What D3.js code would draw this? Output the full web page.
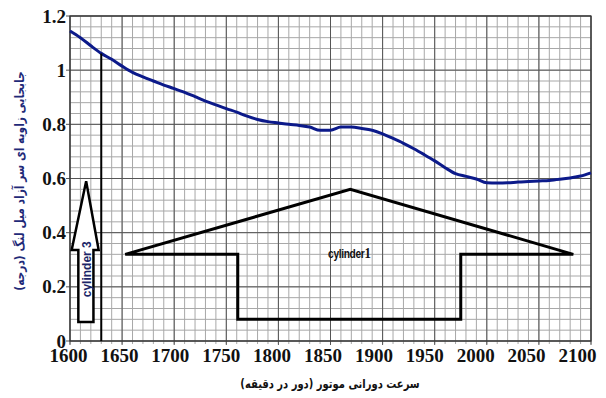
<!DOCTYPE html>
<html>
<head>
<meta charset="utf-8">
<script src="https://cdn.jsdelivr.net/npm/d3@7"></script>
<style>
  html, body { margin: 0; padding: 0; background: #fff; }
  svg { display: block; }
</style>
</head>
<body>
<svg id="chart" width="606" height="398"></svg>
<script>
// Engine speed (rpm) and free-end crankshaft angular displacement (degrees)
const rpm = [1600, 1610, 1620, 1630, 1640, 1650, 1660, 1670, 1680, 1690,
             1700, 1710, 1720, 1730, 1740, 1750, 1760, 1770, 1780, 1790,
             1800, 1810, 1820, 1830, 1840, 1850, 1860, 1870, 1880, 1890,
             1900, 1910, 1920, 1930, 1940, 1950, 1960, 1970, 1980, 1990,
             2000, 2010, 2020, 2030, 2040, 2050, 2060, 2070, 2080, 2090, 2100];
const displacement = [1.145, 1.12, 1.09, 1.062, 1.04, 1.015, 0.992, 0.975, 0.96, 0.945,
                      0.932, 0.918, 0.902, 0.886, 0.872, 0.858, 0.845, 0.83, 0.818, 0.81,
                      0.805, 0.80, 0.796, 0.79, 0.778, 0.778, 0.79, 0.79, 0.785, 0.778,
                      0.765, 0.748, 0.73, 0.71, 0.688, 0.665, 0.64, 0.618, 0.608, 0.598,
                      0.584, 0.583, 0.584, 0.587, 0.589, 0.591, 0.593, 0.597, 0.602, 0.609, 0.621];

const xTicks = [1600, 1650, 1700, 1750, 1800, 1850, 1900, 1950, 2000, 2050, 2100];
const yTicks = [0, 0.2, 0.4, 0.6, 0.8, 1, 1.2];

// Marker line at 1630 rpm
const markerRpm = 1630;
const markerTop = 1.062;

// Cylinder 1 speed band (flat arrow outline), as [rpm, value]
const cyl1Shape = [[1653, 0.32], [1869, 0.56], [2083, 0.32], [1975, 0.32],
                   [1975, 0.08], [1761, 0.08], [1761, 0.32]];
const cyl1Label = "cylinder";
const cyl1Num = "1";
const cyl1LabelPos = [1868, 0.32];

// Cylinder 3 upward arrow, as [rpm, value]
const cyl3Shape = [[1615.5, 0.59], [1627.5, 0.336], [1622.5, 0.336], [1622.5, 0.07],
                   [1608, 0.07], [1608, 0.336], [1601.6, 0.336]];
const cyl3Label = "cylinder 3";
const cyl3LabelPos = [1615.5, 0.265];

const xTitle = "سرعت دورانی موتور (دور در دقیقه)";
const yTitle = "جابجایی زاویه ای سر آزاد میل لنگ (درجه)";

const SERIF = "'Liberation Serif', 'Times New Roman', 'DejaVu Serif', serif";

const svg = d3.select("#chart");
const margin = { left: 70, right: 15, top: 16, bottom: 57 };
const W = 606, H = 398;

const x = d3.scaleLinear().domain([1600, 2100]).range([margin.left, W - margin.right]);
const y = d3.scaleLinear().domain([0, 1.2]).range([H - margin.bottom, margin.top]);
// The labels under the axis sit on a slightly tighter pitch than the grid
const xLabel = d3.scaleLinear().domain([1600, 2100]).range([68, 577]);

// Grid: minor every 10 rpm / 0.04, major every 50 rpm / 0.2
const grid = svg.append("g");
const minorX = d3.range(1600, 2100.1, 10);
const minorY = d3.range(0, 1.2001, 0.04);
grid.selectAll("line.mx").data(minorX).join("line")
  .attr("x1", d => x(d)).attr("x2", d => x(d))
  .attr("y1", y(0) + 3).attr("y2", y(1.2))
  .attr("stroke", "#a8a8a8").attr("stroke-width", 1);
grid.selectAll("line.my").data(minorY).join("line")
  .attr("y1", d => y(d)).attr("y2", d => y(d))
  .attr("x1", x(1600)).attr("x2", x(2100))
  .attr("stroke", "#a8a8a8").attr("stroke-width", 1);
grid.selectAll("line.Mx").data(xTicks).join("line")
  .attr("x1", d => x(d)).attr("x2", d => x(d))
  .attr("y1", y(0) + 4).attr("y2", y(1.2))
  .attr("stroke", "#555").attr("stroke-width", 1);
grid.selectAll("line.My").data(yTicks).join("line")
  .attr("y1", d => y(d)).attr("y2", d => y(d))
  .attr("x1", x(1600) - 4).attr("x2", x(2100))
  .attr("stroke", "#555").attr("stroke-width", 1);

// Axes (labels only; lines come from the grid)
const xAxis = svg.append("g").attr("transform", `translate(0,${y(0)})`)
  .call(d3.axisBottom(xLabel).tickValues(xTicks).tickFormat(d3.format("d")).tickSize(0).tickPadding(8));
const yAxis = svg.append("g").attr("transform", `translate(${x(1600) - 4},0)`)
  .call(d3.axisLeft(y).tickValues(yTicks).tickFormat(d => String(d)).tickSize(0).tickPadding(0));
[xAxis, yAxis].forEach(a => {
  a.attr("font-family", SERIF).attr("font-size", 19).attr("font-weight", "bold");
  a.select(".domain").remove();
  a.selectAll("text")
    .style("font-family", SERIF).style("font-weight", "700").style("font-size", "19px")
    .attr("fill", "#111");
});

// Plot frame
svg.append("rect")
  .attr("x", x(1600)).attr("y", y(1.2))
  .attr("width", x(2100) - x(1600)).attr("height", y(0) - y(1.2))
  .attr("fill", "none").attr("stroke", "#333").attr("stroke-width", 1.2);

// Data curve
const line = d3.line().x((d, i) => x(rpm[i])).y(d => y(d)).curve(d3.curveMonotoneX);
svg.append("path").datum(displacement)
  .attr("d", line).attr("fill", "none")
  .attr("stroke", "#0c1a8a").attr("stroke-width", 3).attr("stroke-linejoin", "round");

// Marker line
svg.append("line")
  .attr("x1", x(markerRpm)).attr("x2", x(markerRpm))
  .attr("y1", y(markerTop)).attr("y2", y(0))
  .attr("stroke", "#000").attr("stroke-width", 2);

// Cylinder 1 outline
const poly = d3.line().x(d => x(d[0])).y(d => y(d[1])).curve(d3.curveLinearClosed);
svg.append("path").datum(cyl1Shape).attr("d", poly)
  .attr("fill", "none").attr("stroke", "#000").attr("stroke-width", 3)
  .attr("stroke-linejoin", "miter");
const t1 = svg.append("text")
  .attr("transform", `translate(${x(cyl1LabelPos[0])},${y(cyl1LabelPos[1]) + 4}) scale(0.85,1)`)
  .attr("text-anchor", "middle")
  .style("font-family", "'Liberation Sans', sans-serif")
  .style("font-weight", "700").style("font-size", "12px").attr("fill", "#111")
  .attr("letter-spacing", -0.4);
t1.append("tspan").text(cyl1Label);
t1.append("tspan").style("font-family", SERIF).style("font-size", "15px").text(cyl1Num);

// Cylinder 3 arrow
svg.append("path").datum(cyl3Shape).attr("d", poly)
  .attr("fill", "#fff").attr("stroke", "#000").attr("stroke-width", 2.5)
  .attr("stroke-linejoin", "miter");
svg.append("text")
  .attr("transform", `translate(${x(cyl3LabelPos[0]) + 4.5},${y(cyl3LabelPos[1])}) rotate(-90)`)
  .attr("text-anchor", "middle")
  .style("font-family", "'Liberation Sans', sans-serif")
  .style("font-weight", "700").style("font-size", "12px").attr("fill", "#1c2668")
  .text(cyl3Label);

// Axis titles (compressed along the reading direction)
svg.append("text")
  .attr("transform", "translate(330,388) scale(0.8,1)")
  .attr("text-anchor", "middle").attr("direction", "rtl")
  .style("font-family", "'DejaVu Sans', sans-serif")
  .style("font-weight", "700").style("font-size", "12.5px").attr("fill", "#111")
  .text(xTitle);
svg.append("text")
  .attr("transform", "translate(24,181) rotate(-90) scale(0.82,1)")
  .attr("text-anchor", "middle").attr("direction", "rtl")
  .style("font-family", "'DejaVu Sans', sans-serif")
  .style("font-weight", "700").style("font-size", "13px").attr("fill", "#1f2a78")
  .text(yTitle);
</script>
</body>
</html>
